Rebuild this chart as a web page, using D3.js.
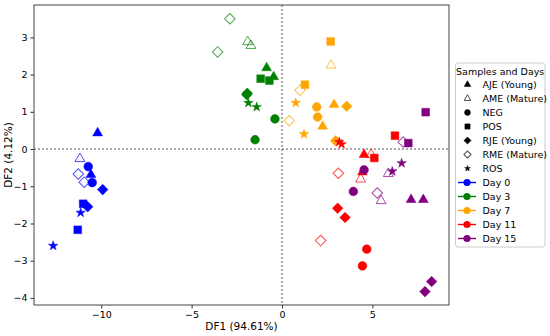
<!DOCTYPE html>
<html>
  <head>
    <meta charset="utf-8">
    <title>DF1 vs DF2</title>
    <style>
      body {margin:0; background:#fff}
      text {font-family: "DejaVu Sans", sans-serif; fill:#000}
    </style>
  </head>
  <body>
    <script src="https://cdn.jsdelivr.net/npm/d3@7"></script>
    <script>

    // sample types and their marker look
    const samples = ['AJE (Young)', 'AME (Mature)', 'NEG', 'POS', 'RJE (Young)', 'RME (Mature)', 'ROS']
    const sampleKeys = ['AJE', 'AME', 'NEG', 'POS', 'RJE', 'RME', 'ROS']

    const days = ['Day 0', 'Day 3', 'Day 7', 'Day 11', 'Day 15']
    const dayColors = ['#0000ff', '#008000', '#ffa500', '#ff0000', '#800080']

    // [sample, DF1, DF2]
    const day0 = [
      ['AJE', -10.2, 0.43], ['AJE', -10.57, -0.69],
      ['AME', -11.18, -0.26],
      ['NEG', -10.72, -0.47], ['NEG', -10.5, -0.9],
      ['POS', -11.0, -1.47], ['POS', -11.3, -2.17],
      ['RJE', -9.92, -1.09], ['RJE', -10.75, -1.55],
      ['RME', -11.27, -0.67], ['RME', -10.94, -0.89],
      ['ROS', -11.14, -1.71], ['ROS', -12.66, -2.6]
    ]
    const day3 = [
      ['AJE', -0.85, 2.18], ['AJE', -0.46, 1.94],
      ['AME', -1.9, 2.88], ['AME', -1.72, 2.78],
      ['NEG', -0.39, 0.81], ['NEG', -1.49, 0.25],
      ['POS', -1.18, 1.89], ['POS', -0.7, 1.84],
      ['RJE', -1.95, 1.46], ['RJE', -1.92, 1.5],
      ['RME', -2.88, 3.5], ['RME', -3.56, 2.61],
      ['ROS', -1.86, 1.24], ['ROS', -1.4, 1.13]
    ]
    const day7 = [
      ['AJE', 2.88, 1.19], ['AJE', 2.25, 0.61],
      ['AME', 2.71, 2.25],
      ['NEG', 1.92, 1.13], ['NEG', 1.97, 0.86],
      ['POS', 2.69, 2.89], ['POS', 1.27, 1.73],
      ['RJE', 3.58, 1.15], ['RJE', 2.97, 0.22],
      ['RME', 1.0, 1.58], ['RME', 0.4, 0.76],
      ['ROS', 0.76, 1.24], ['ROS', 1.22, 0.4]
    ]
    const day11 = [
      ['AJE', 4.54, -0.15], ['AJE', 4.45, -0.62],
      ['AME', 4.93, -0.15], ['AME', 4.35, -0.81],
      ['NEG', 4.69, -2.69], ['NEG', 4.45, -3.14],
      ['POS', 6.25, 0.36], ['POS', 5.11, -0.24],
      ['RJE', 3.08, -1.59], ['RJE', 3.49, -1.84],
      ['RME', 3.12, -0.65], ['RME', 2.14, -2.46],
      ['ROS', 3.17, 0.19], ['ROS', 3.3, 0.13]
    ]
    const day15 = [
      ['AJE', 7.14, -1.36], ['AJE', 7.82, -1.36],
      ['AME', 5.88, -0.66], ['AME', 5.48, -1.39],
      ['NEG', 4.54, -0.56], ['NEG', 3.95, -1.14],
      ['POS', 7.95, 0.99], ['POS', 6.99, 0.16],
      ['RJE', 8.28, -3.56], ['RJE', 7.91, -3.83],
      ['RME', 6.71, 0.19], ['RME', 5.27, -1.18],
      ['ROS', 6.62, -0.38], ['ROS', 6.1, -0.6]
    ]
    const dayPoints = [day0, day3, day7, day11, day15]

    const xTicks = [-10, -5, 0, 5]
    const yTicks = [-4, -3, -2, -1, 0, 1, 2, 3]

    const W = 550, H = 336
    const m = {left: 34, right: 101, top: 5, bottom: 31}

    const svg = d3.select('body').append('svg')
      .attr('width', W)
      .attr('height', H)

    const x = d3.scaleLinear().domain([-13.72, 9.24]).range([m.left, W - m.right])
    const y = d3.scaleLinear().domain([-4.19, 3.87]).range([H - m.bottom, m.top])

    // marker shapes
    const shape = {
      AJE: {type: d3.symbolTriangle, size: 42, open: false},
      AME: {type: d3.symbolTriangle, size: 42, open: true},
      NEG: {type: d3.symbolCircle, size: 60, open: false},
      POS: {type: d3.symbolSquare, size: 60, open: false},
      RJE: {type: d3.symbolSquare, size: 56, open: false, rot: 45},
      RME: {type: d3.symbolSquare, size: 56, open: true, rot: 45},
      ROS: {type: d3.symbolStar, size: 28, open: false}
    }

    function marker (g, key, color, scale) {
      const s = shape[key]
      g.append('path')
        .attr('d', d3.symbol().type(s.type).size(s.size * scale)())
        .attr('transform', s.rot ? `rotate(${s.rot})` : null)
        .attr('fill', s.open ? 'none' : color)
        .attr('stroke', color)
        .attr('stroke-opacity', s.open ? 0.7 : 1)
        .attr('stroke-width', s.open ? 1 : 0.5)
    }

    // zero lines
    svg.append('line')
      .attr('x1', x(0)).attr('x2', x(0))
      .attr('y1', m.top).attr('y2', H - m.bottom)
      .attr('stroke', '#555').attr('stroke-dasharray', '2,2')
    svg.append('line')
      .attr('x1', m.left).attr('x2', W - m.right)
      .attr('y1', y(0)).attr('y2', y(0))
      .attr('stroke', '#555').attr('stroke-dasharray', '2,2')

    // points
    dayPoints.forEach((pts, i) => {
      pts.forEach(p => {
        const g = svg.append('g').attr('transform', `translate(${x(p[1])},${y(p[2])})`)
        marker(g, p[0], dayColors[i], 1)
      })
    })

    // axes
    const xAxis = svg.append('g')
      .attr('transform', `translate(0,${H - m.bottom})`)
      .call(d3.axisBottom(x).tickValues(xTicks).tickSize(3.5).tickFormat(d => d < 0 ? '\u2212' + (-d) : d))
    const yAxis = svg.append('g')
      .attr('transform', `translate(${m.left},0)`)
      .call(d3.axisLeft(y).tickValues(yTicks).tickSize(3.5).tickFormat(d => d < 0 ? '\u2212' + (-d) : d))
    ;[xAxis, yAxis].forEach(a => {
      a.select('.domain').remove()
      a.selectAll('text').style('font-size', '9.5px').style('font-family', 'DejaVu Sans')
      a.selectAll('line').attr('stroke', '#333')
    })

    svg.append('rect')
      .attr('x', m.left).attr('y', m.top)
      .attr('width', W - m.right - m.left).attr('height', H - m.bottom - m.top)
      .attr('fill', 'none').attr('stroke', '#444').attr('stroke-width', 1)

    svg.append('text')
      .attr('x', (m.left + W - m.right) / 2).attr('y', 330)
      .attr('text-anchor', 'middle').style('font-size', '10.5px')
      .text('DF1 (94.61%)')
    svg.append('text')
      .attr('transform', `translate(12,${(m.top + H - m.bottom) / 2}) rotate(-90)`)
      .attr('text-anchor', 'middle').style('font-size', '10.5px')
      .text('DF2 (4.12%)')

    // legend
    const lg = svg.append('g').attr('transform', 'translate(455.5,63)')
    lg.append('rect')
      .attr('width', 89.5).attr('height', 184).attr('rx', 2.5)
      .attr('fill', '#fff').attr('stroke', '#ccc')
    lg.append('text').attr('x', 44.7).attr('y', 11.5)
      .attr('text-anchor', 'middle').style('font-size', '9.5px')
      .text('Samples and Days')

    const rowY = i => 21.5 + i * 14
    samples.forEach((s, i) => {
      const g = lg.append('g').attr('transform', `translate(12,${rowY(i)})`)
      marker(g, sampleKeys[i], '#000', i === 6 ? 0.35 : 0.45)
      lg.append('text').attr('x', 27).attr('y', rowY(i) + 3.5)
        .style('font-size', '9.5px').text(s)
    })
    days.forEach((d, j) => {
      const i = j + samples.length
      lg.append('line')
        .attr('x1', 2.5).attr('x2', 20.5).attr('y1', rowY(i)).attr('y2', rowY(i))
        .attr('stroke', dayColors[j]).attr('stroke-width', 1.4)
      lg.append('circle').attr('cx', 11.5).attr('cy', rowY(i)).attr('r', 3.6)
        .attr('fill', dayColors[j])
      lg.append('text').attr('x', 27).attr('y', rowY(i) + 3.5)
        .style('font-size', '9.5px').text(d)
    })
    </script>
  </body>
</html>
